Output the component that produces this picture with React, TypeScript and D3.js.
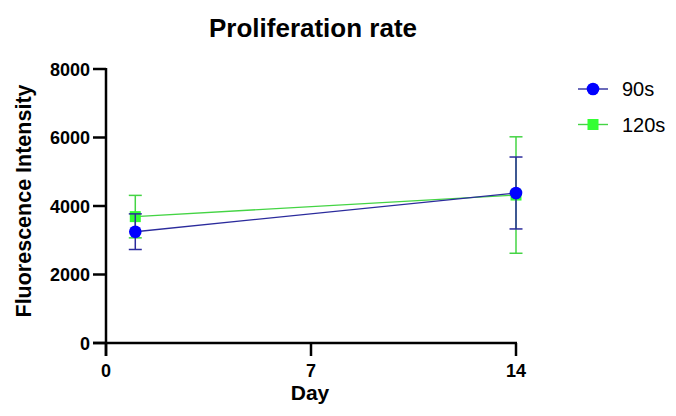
import React from "react";
import * as d3 from "d3";

const days = [1, 14];
const series90 = [3250, 4380];
const err90 = [520, 1050];
const series120 = [3690, 4320];
const err120 = [620, 1700];
const xTicks = [0, 7, 14];
const yTicks = [0, 2000, 4000, 6000, 8000];

const W = 676, H = 416;
const FONT = "Liberation Sans, Arial, sans-serif";

export default function App() {
  const x = d3.scaleLinear().domain([0, 14]).range([106, 516]);
  const y = d3.scaleLinear().domain([0, 8000]).range([343, 69]);
  const line = d3.line<number>().x((_, i) => x(days[i])).y((d) => y(d));

  const seriesList = [
    { name: "90s", vals: series90, err: err90, color: "#0000ff", lineColor: "#2b2b9c", shape: "circle" },
    { name: "120s", vals: series120, err: err120, color: "#33ff33", lineColor: "#44d444", shape: "square" },
  ];
  const drawOrder = [seriesList[1], seriesList[0]];

  const marker = (s: any, cx: number, cy: number, key: string) =>
    s.shape === "circle" ? (
      <circle key={key} cx={cx} cy={cy} r={6.3} fill={s.color} />
    ) : (
      <rect key={key} x={cx - 5.5} y={cy - 5.5} width={11} height={11} fill={s.color} />
    );

  return (
    <svg width={W} height={H} style={{ position: "absolute", left: 0, top: 0 }} fontFamily={FONT}>
      <rect width={W} height={H} fill="#fff" />
      <text x={313} y={37} textAnchor="middle" fontWeight="bold" fontSize={26}>Proliferation rate</text>
      {/* axes */}
      <line x1={106} x2={106} y1={68} y2={356} stroke="#000" strokeWidth={2.5} />
      <line x1={93} x2={517} y1={343} y2={343} stroke="#000" strokeWidth={2.5} />
      {yTicks.map((t) => (
        <g key={t}>
          <line x1={93} x2={106} y1={y(t)} y2={y(t)} stroke="#000" strokeWidth={2.5} />
          <text x={90} y={y(t) + 6.5} textAnchor="end" fontWeight="bold" fontSize={18}>{t}</text>
        </g>
      ))}
      {xTicks.map((t) => (
        <g key={t}>
          <line x1={x(t)} x2={x(t)} y1={343} y2={356} stroke="#000" strokeWidth={2.5} />
          <text x={x(t)} y={377} textAnchor="middle" fontWeight="bold" fontSize={18}>{t}</text>
        </g>
      ))}
      <text x={310} y={400} textAnchor="middle" fontWeight="bold" fontSize={21}>Day</text>
      <text transform="translate(31,201) rotate(-90)" textAnchor="middle" fontWeight="bold" fontSize={21.5}>Fluorescence Intensity</text>
      {/* data */}
      {drawOrder.map((s) => (
        <g key={s.name}>
          <path d={line(s.vals) || ""} fill="none" stroke={s.lineColor} strokeWidth={1.4} />
          {s.vals.map((v, i) => {
            const cx = x(days[i]);
            return (
              <g key={i}>
                <line x1={cx} x2={cx} y1={y(v + s.err[i])} y2={y(v - s.err[i])} stroke={s.lineColor} strokeWidth={1.5} />
                <line x1={cx - 6.5} x2={cx + 6.5} y1={y(v + s.err[i])} y2={y(v + s.err[i])} stroke={s.lineColor} strokeWidth={1.5} />
                <line x1={cx - 6.5} x2={cx + 6.5} y1={y(v - s.err[i])} y2={y(v - s.err[i])} stroke={s.lineColor} strokeWidth={1.5} />
              </g>
            );
          })}
          {s.vals.map((v, i) => marker(s, x(days[i]), y(v), "m" + i))}
        </g>
      ))}
      {/* legend */}
      {seriesList.map((s, i) => {
        const ly = 89 + i * 35.5;
        return (
          <g key={s.name}>
            <line x1={578} x2={608} y1={ly} y2={ly} stroke={s.lineColor} strokeWidth={1.4} />
            {marker(s, 593, ly, "l")}
            <text x={622} y={ly + 7} fontSize={20}>{s.name}</text>
          </g>
        );
      })}
    </svg>
  );
}
